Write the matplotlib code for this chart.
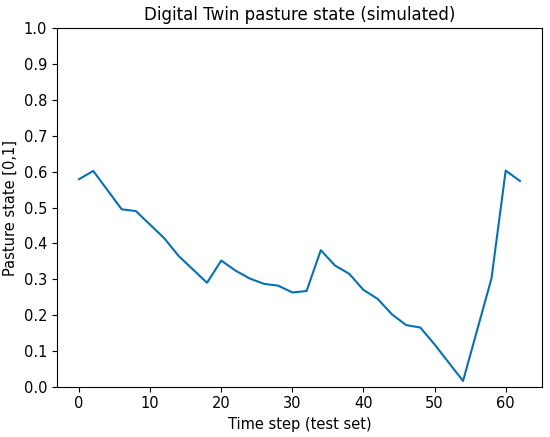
import matplotlib
matplotlib.use("Agg")
import matplotlib.pyplot as plt

time_step = [0, 2, 6, 8, 12, 14, 18, 20, 22, 24, 26, 28, 30, 32, 34, 36, 38,
             40, 42, 44, 46, 48, 50, 54, 58, 60, 62]
pasture_state = [0.579, 0.602, 0.495, 0.490, 0.414, 0.365, 0.290, 0.352, 0.324,
                 0.302, 0.287, 0.282, 0.263, 0.267, 0.381, 0.338, 0.315, 0.270,
                 0.245, 0.202, 0.172, 0.165, 0.118, 0.016, 0.302, 0.603, 0.574]

fig = plt.figure(figsize=(5.5, 4.37), dpi=100)
ax = fig.add_axes([0.1036, 0.1151, 0.8818, 0.8201])
ax.plot(time_step, pasture_state, color="#0072BD", linewidth=1.5)
ax.set_ylim(0, 1)
ax.set_yticks([i / 10 for i in range(11)])
ax.set_xticks([0, 10, 20, 30, 40, 50, 60])
ax.tick_params(labelsize=10.5)
ax.set_xlabel("Time step (test set)", fontsize=10.5)
ax.set_ylabel("Pasture state [0,1]", fontsize=10.5)
ax.set_title("Digital Twin pasture state (simulated)", fontsize=12)
fig.savefig("out.png", dpi=100)
